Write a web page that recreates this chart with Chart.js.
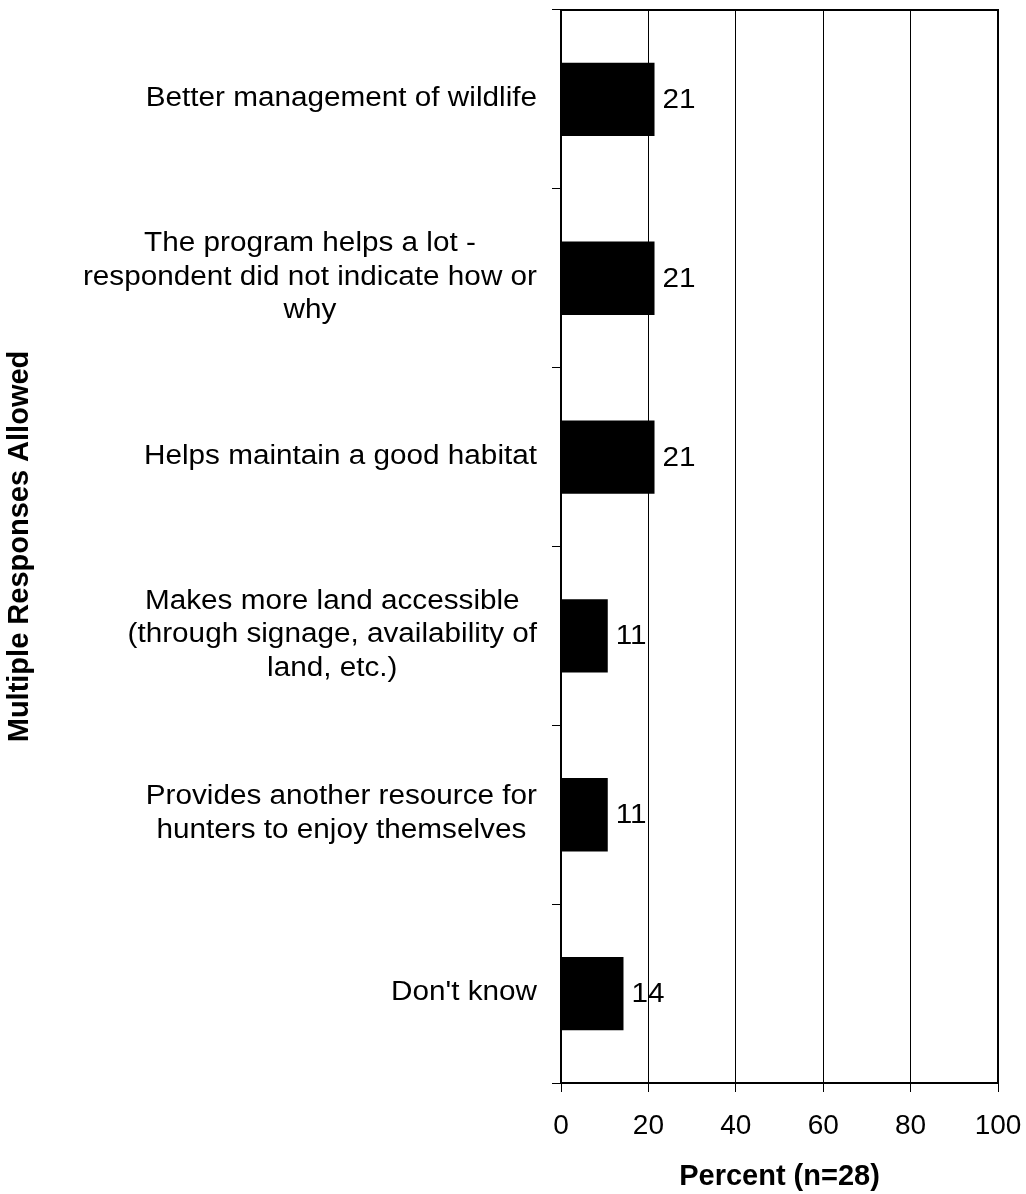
<!DOCTYPE html>
<html>
<head>
<meta charset="utf-8">
<script src="https://cdn.jsdelivr.net/npm/chart.js@4/dist/chart.umd.min.js"></script>
<style>
  html, body { margin: 0; padding: 0; background: #fff; }
  canvas { display: block; }
</style>
</head>
<body>
<canvas id="myChart" width="1026" height="1194"></canvas>
<script>
// categories (multi-line, as wrapped in the original)
var categories = [
  ['Better management of wildlife'],
  ['The program helps a lot -', 'respondent did not indicate how or', 'why'],
  ['Helps maintain a good habitat'],
  ['Makes more land accessible', '(through signage, availability of', 'land, etc.)'],
  ['Provides another resource for', 'hunters to enjoy themselves'],
  ["Don't know"]
];
// percent of respondents (n=28)
var percents = [21.4, 21.4, 21.4, 10.7, 10.7, 14.3];
var xTicks = [0, 20, 40, 60, 80, 100];

var FONT = '"Liberation Sans", Arial, sans-serif';
var STRETCH = 1.1;   // the original text is a little wider than Arial
var LINE_H = 33.5;

// category labels: block right-aligned to the axis, lines centred inside the block
var catLabels = {
  id: 'catLabels',
  afterDraw: function(chart) {
    var ctx = chart.ctx, yScale = chart.scales.y, left = chart.chartArea.left;
    ctx.save();
    ctx.font = '27px ' + FONT;
    ctx.fillStyle = '#000';
    ctx.textAlign = 'center';
    ctx.textBaseline = 'middle';
    categories.forEach(function(lines, i) {
      var cy = yScale.getPixelForValue(i);
      var w = Math.max.apply(null, lines.map(function(l) { return ctx.measureText(l).width; })) * STRETCH;
      var cx = left - 24 - w / 2;
      lines.forEach(function(l, j) {
        var ly = cy + (j - (lines.length - 1) / 2) * LINE_H - 1;
        ctx.save();
        ctx.translate(cx, ly);
        ctx.scale(STRETCH, 1);
        ctx.fillText(l, 0, 0);
        ctx.restore();
      });
    });
    ctx.restore();
  }
};

// value labels at the end of each bar
var valueLabels = {
  id: 'valueLabels',
  afterDatasetsDraw: function(chart) {
    var ctx = chart.ctx;
    var bars = chart.getDatasetMeta(0).data;
    ctx.save();
    ctx.font = '27px ' + FONT;
    ctx.fillStyle = '#000';
    ctx.textAlign = 'left';
    ctx.textBaseline = 'middle';
    bars.forEach(function(bar, i) {
      ctx.save();
      ctx.translate(bar.x + 8, bar.y + 1);
      ctx.scale(STRETCH, 1);
      ctx.fillText(String(Math.round(percents[i])), 0, 0);
      ctx.restore();
    });
    ctx.restore();
  }
};

// box round the plot area
var frame = {
  id: 'frame',
  afterDraw: function(chart) {
    var a = chart.chartArea, ctx = chart.ctx;
    ctx.save();
    ctx.strokeStyle = '#000';
    ctx.lineWidth = 2;
    ctx.strokeRect(a.left, a.top, a.right - a.left, a.bottom - a.top);
    ctx.restore();
  }
};

var ctx = document.getElementById('myChart').getContext('2d');
var myChart = new Chart(ctx, {
  type: 'bar',
  data: {
    labels: categories,
    datasets: [{
      data: percents,
      backgroundColor: '#000',
      borderWidth: 0,
      barPercentage: 0.41,
      categoryPercentage: 1
    }]
  },
  options: {
    indexAxis: 'y',
    responsive: false,
    animation: false,
    devicePixelRatio: 1,
    layout: { padding: { top: 10, right: 28, left: 0, bottom: 0 } },
    plugins: {
      legend: { display: false },
      tooltip: { enabled: false }
    },
    scales: {
      x: {
        min: xTicks[0],
        max: xTicks[xTicks.length - 1],
        ticks: {
          stepSize: 20,
          color: '#000',
          padding: 17,
          font: { family: FONT, size: 28 }
        },
        grid: { color: '#000', lineWidth: 1, tickLength: 9 },
        border: { color: '#000', width: 2 },
        title: {
          display: true,
          text: 'Percent (n=28)',
          color: '#000',
          padding: { top: 0, bottom: 0 },
          font: { family: FONT, size: 29, weight: 'bold' }
        },
        afterFit: function(scale) {
          scale.height = 111;
          scale.paddingLeft = 0;
          scale.paddingRight = 0;
        }
      },
      y: {
        ticks: { display: false },
        grid: { offset: true, drawOnChartArea: false, color: '#000', tickLength: 9 },
        border: { color: '#000', width: 2 },
        title: {
          display: true,
          text: 'Multiple Responses Allowed',
          color: '#000',
          padding: { top: 3, bottom: 0 },
          font: { family: FONT, size: 29, weight: 'bold' }
        },
        afterFit: function(scale) { scale.width = 561; }
      }
    }
  },
  plugins: [catLabels, valueLabels, frame]
});
</script>
</body>
</html>
